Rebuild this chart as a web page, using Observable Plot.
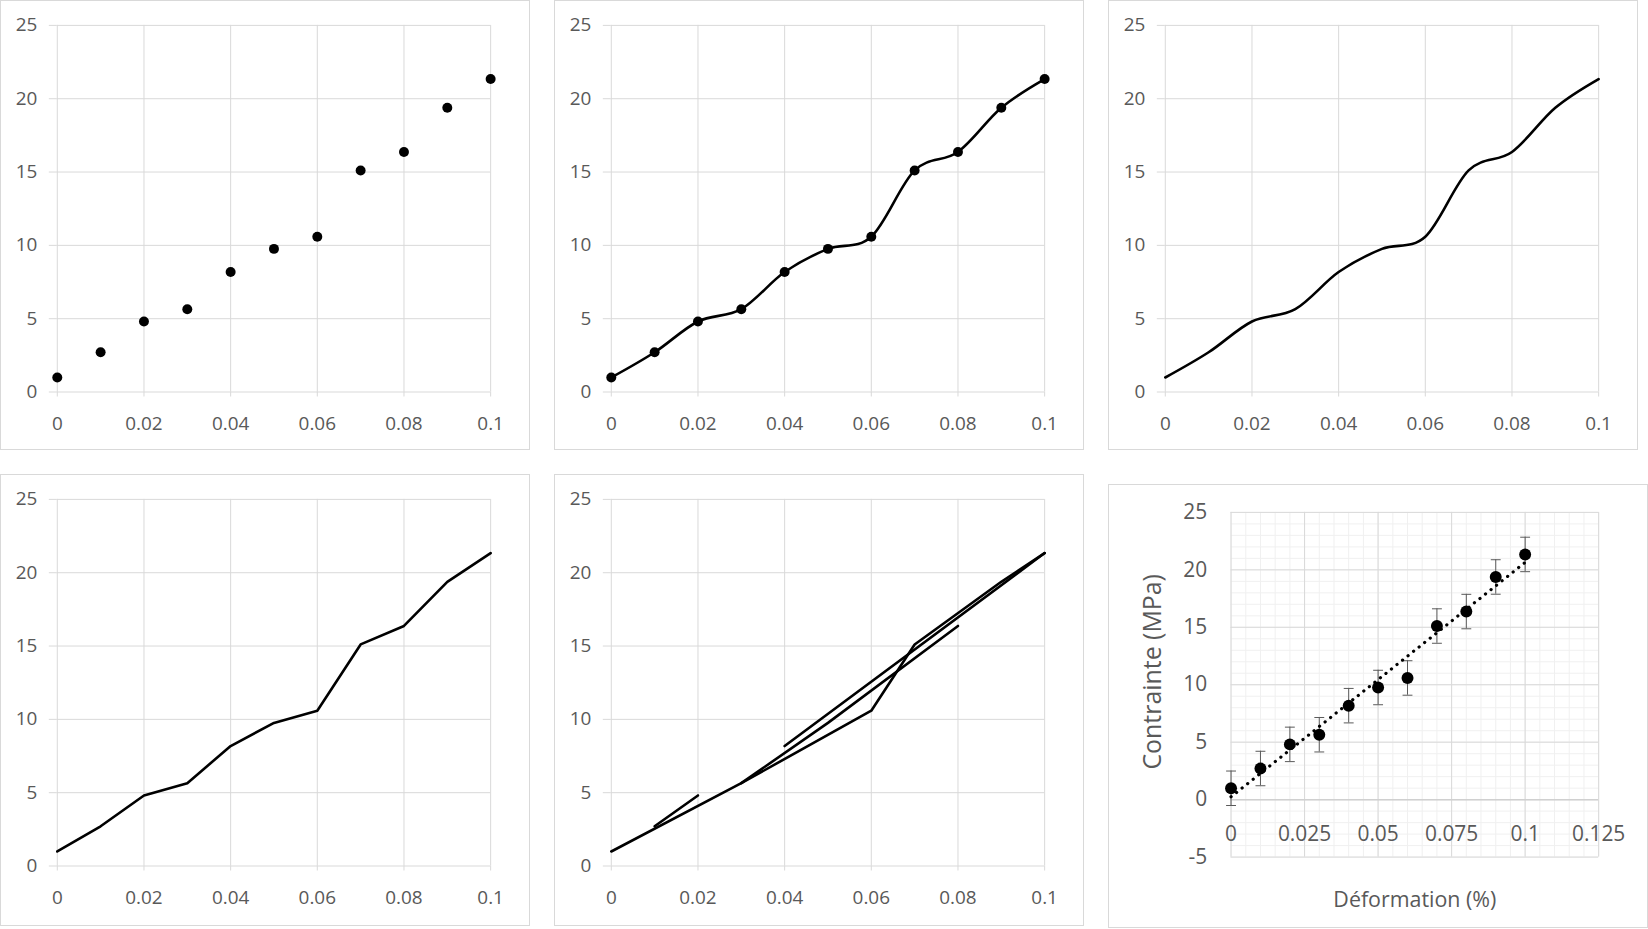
<!DOCTYPE html>
<html><head><meta charset="utf-8">
<script src="https://cdn.jsdelivr.net/npm/d3@7"></script>
<script src="https://cdn.jsdelivr.net/npm/@observablehq/plot@0.6"></script>
<style>
body{margin:0;background:#fff;}
#root{position:relative;width:1648px;height:929px;overflow:hidden;background:#fff;}
.panel{position:absolute;box-sizing:border-box;border:1px solid #d9d9d9;background:#fff;}
.panel svg{position:absolute;left:-1px;top:-1px;}
</style></head><body><div id="root"></div>
<script>
// ---- data ----
const strain = [0, 0.01, 0.02, 0.03, 0.04, 0.05, 0.06, 0.07, 0.08, 0.09, 0.1];
const stress = [0.99, 2.71, 4.81, 5.65, 8.18, 9.76, 10.59, 15.11, 16.37, 19.38, 21.34];
const stressError = [1.5, 1.5, 1.5, 1.5, 1.5, 1.5, 1.5, 1.5, 1.5, 1.5, 1.5];
// panel 5: points joined in an unsorted order (indices into strain/stress)
const unsortedPaths = [[0, 3, 6, 7, 9, 10], [1, 2], [3, 5, 8], [4, 10]];

const xTicks = [0, 0.02, 0.04, 0.06, 0.08, 0.1];
const xTickLabels = ["0", "0.02", "0.04", "0.06", "0.08", "0.1"];
const yTicks = [0, 5, 10, 15, 20, 25];
const yTickLabels = ["0", "5", "10", "15", "20", "25"];

const xTicks6 = [0, 0.025, 0.05, 0.075, 0.1, 0.125];
const xTickLabels6 = ["0", "0.025", "0.05", "0.075", "0.1", "0.125"];
const yTicks6 = [-5, 0, 5, 10, 15, 20, 25];
const yTickLabels6 = ["-5", "0", "5", "10", "15", "20", "25"];
const yTitle6 = "Contrainte (MPa)";
const xTitle6 = "Déformation (%)";

// ---- table built from the arrays ----
const points = strain.map((x, i) => ({x, y: stress[i], e: stressError[i]}));
const unsortedRows = unsortedPaths.flatMap((path, p) => path.map(i => ({x: strain[i], y: stress[i], seg: p})));

const FONT = "'Open Sans', sans-serif";
const GRID = "#d9d9d9";
const TEXT = "#595959";

function basePlot(h, marks) {
  return Plot.plot({
    width: 530, height: h,
    marginLeft: 57, marginRight: 38, marginTop: 25, marginBottom: h - 393,
    style: {fontFamily: FONT, fontSize: "19px", color: TEXT, background: "transparent", overflow: "visible"},
    x: {domain: [0, 0.1], axis: null},
    y: {domain: [0, 25], axis: null},
    marks: [
      Plot.gridX(xTicks, {stroke: GRID, strokeOpacity: 1}),
      Plot.gridY(yTicks, {stroke: GRID, strokeOpacity: 1}),
      Plot.axisY(yTicks, {label: null, tickSize: 8, tickPadding: 12, stroke: GRID, strokeOpacity: 1, tickFormat: d => yTickLabels[yTicks.indexOf(d)]}),
      Plot.axisX(xTicks, {label: null, tickSize: 5, tickPadding: 20, stroke: GRID, strokeOpacity: 1, tickFormat: d => xTickLabels[xTicks.indexOf(d)]}),
      ...marks
    ]
  });
}

const LW = 2.6;
const panels = [
  {left: 0, top: 0, w: 530, h: 450, plot: () => basePlot(450, [
    Plot.dot(points, {x: "x", y: "y", r: 5, fill: "black"})
  ])},
  {left: 554, top: 0, w: 530, h: 450, plot: () => basePlot(450, [
    Plot.line(points, {x: "x", y: "y", stroke: "black", strokeWidth: LW, curve: "cardinal", tension: 0}),
    Plot.dot(points, {x: "x", y: "y", r: 5, fill: "black"})
  ])},
  {left: 1108, top: 0, w: 530, h: 450, plot: () => basePlot(450, [
    Plot.line(points, {x: "x", y: "y", stroke: "black", strokeWidth: LW, curve: "cardinal", tension: 0})
  ])},
  {left: 0, top: 474, w: 530, h: 452, plot: () => basePlot(452, [
    Plot.line(points, {x: "x", y: "y", stroke: "black", strokeWidth: LW})
  ])},
  {left: 554, top: 474, w: 530, h: 452, plot: () => basePlot(452, [
    Plot.line(unsortedRows, {x: "x", y: "y", z: "seg", stroke: "black", strokeWidth: LW})
  ])},
  {left: 1108, top: 484, w: 540, h: 444, plot: () => {
    const cap = {draw(ctx, size) { const w = Math.sqrt(size); ctx.moveTo(-w / 2, 0); ctx.lineTo(w / 2, 0); }};
    return Plot.plot({
      width: 540, height: 444,
      marginLeft: 123, marginRight: 48, marginTop: 28, marginBottom: 70,
      style: {fontFamily: FONT, fontSize: "21px", color: TEXT, background: "transparent", overflow: "visible"},
      x: {domain: [0, 0.125], axis: null},
      y: {domain: [-5, 25], axis: null},
      marks: [
        Plot.gridX({ticks: 25, stroke: "#f0f0f0", strokeOpacity: 1}),
        Plot.gridY({ticks: 30, stroke: "#f0f0f0", strokeOpacity: 1}),
        Plot.gridX(xTicks6, {stroke: GRID, strokeOpacity: 1}),
        Plot.gridY(yTicks6, {stroke: GRID, strokeOpacity: 1}),
        Plot.ruleY([0], {stroke: "#d0d0d0", strokeWidth: 1.5}),
        Plot.axisY(yTicks6, {label: null, tickSize: 0, tickPadding: 24, tickFormat: d => yTickLabels6[yTicks6.indexOf(d)]}),
        Plot.text(xTicks6, {x: d => d, y: () => 0, dy: 35, text: d => xTickLabels6[xTicks6.indexOf(d)], fill: TEXT}),
        Plot.ruleX(points, {x: "x", y1: d => d.y - d.e, y2: d => d.y + d.e, stroke: TEXT, strokeWidth: 1}),
        Plot.dot(points, {x: "x", y: d => d.y + d.e, symbol: cap, r: 5.6, stroke: TEXT, strokeWidth: 1}),
        Plot.dot(points, {x: "x", y: d => d.y - d.e, symbol: cap, r: 5.6, stroke: TEXT, strokeWidth: 1}),
        Plot.dot(points, {x: "x", y: "y", r: 6, fill: "black"}),
        Plot.linearRegressionY(points, {x: "x", y: "y", ci: 0, stroke: "black", strokeWidth: 3.2, strokeDasharray: "0.1 7", strokeLinecap: "round"}),
        Plot.text([yTitle6], {frameAnchor: "left", textAnchor: "middle", lineAnchor: "middle", rotate: -90, dx: -78, dy: -13, fontSize: 25, fill: TEXT}),
        Plot.text([xTitle6], {frameAnchor: "bottom", textAnchor: "middle", lineAnchor: "middle", dy: 43, fontSize: 21.5, fill: TEXT})
      ]
    });
  }}
];

const root = document.getElementById("root");
for (const p of panels) {
  const div = document.createElement("div");
  div.className = "panel";
  Object.assign(div.style, {left: p.left + "px", top: p.top + "px", width: p.w + "px", height: p.h + "px"});
  div.appendChild(p.plot());
  root.appendChild(div);
}
</script></body></html>
